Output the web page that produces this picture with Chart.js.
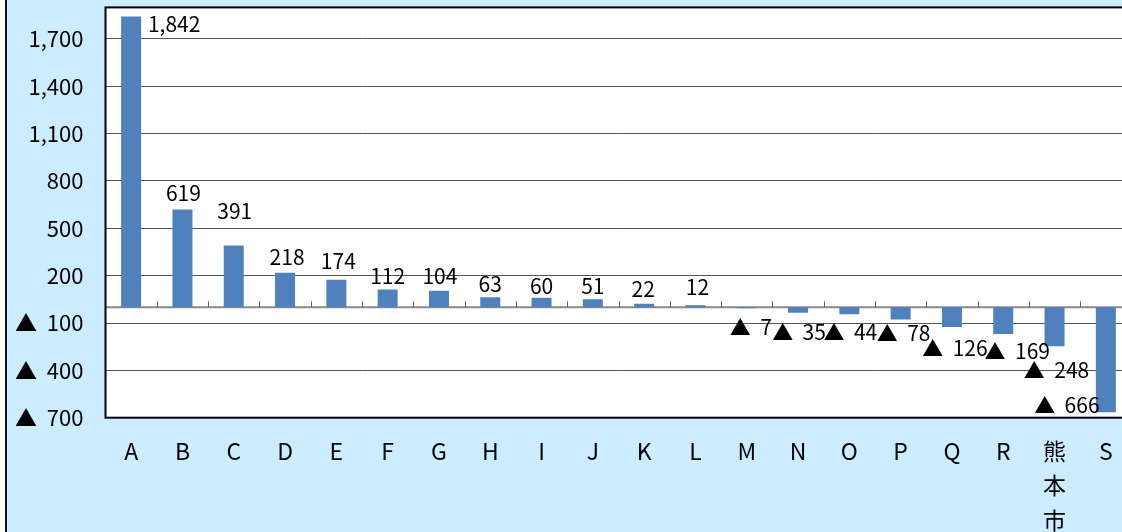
<!DOCTYPE html>
<html lang="ja">
<head>
<meta charset="utf-8">
<title>増減数</title>
<script src="https://cdn.jsdelivr.net/npm/chart.js@4/dist/chart.umd.min.js"></script>
<style>
  html, body { margin: 0; padding: 0; background: #ffffff; overflow: hidden; width: 1122px; height: 532px; }
  #frame {
    position: absolute; left: 5px; top: -20px; width: 1200px; height: 580px;
    box-sizing: border-box; border: 2px solid #111; border-radius: 12px;
    background: #ccecff;
  }
  #wrap { position: absolute; left: 0; top: 0; width: 1160px; height: 532px; }
</style>
</head>
<body>
<div id="frame"></div>
<div id="wrap"><canvas id="chart" width="1160" height="532"></canvas></div>
<script>
// Categories (熊本市 is written top to bottom)
const categories = ['A','B','C','D','E','F','G','H','I','J','K','L','M','N','O','P','Q','R',['熊','本','市'],'S'];
// Change in number
const values = [1842, 619, 391, 218, 174, 112, 104, 63, 60, 51, 22, 12, -7, -35, -44, -78, -126, -169, -248, -666];
// Value axis ticks
const yTickValues = [-700, -400, -100, 200, 500, 800, 1100, 1400, 1700];
const yMin = -700;
const yMax = 1900;

// Label placement tweaks [dx, dy] in px, per bar
const labelNudge = [
  [43, 22], [1, -2], [1, -20], [2, -1], [2, -4], [0, 1], [1, 0], [0, 2], [0, 3], [0, 2], [-1, 0], [2, -3],
  [4, 0], [1, 0], [1, -1], [3, -6], [3, 2], [14, -2], [2, 5], [-39, -26]
];

const FONT = '"Noto Sans CJK JP", "Noto Sans", sans-serif';

function fmt(v) {
  const s = Math.abs(v).toLocaleString('en-US');
  return v < 0 ? '▲  ' + s : s;
}

// White plot area, frame, zero line with category ticks, value labels
const plotArea = {
  id: 'plotArea',
  beforeDraw(chart) {
    const { ctx, chartArea: a } = chart;
    ctx.save();
    ctx.fillStyle = '#ffffff';
    ctx.fillRect(a.left, a.top, a.right - a.left, a.bottom - a.top);
    ctx.restore();
  },
  beforeDatasetsDraw(chart) {
    const { ctx, chartArea: a, scales: { x, y } } = chart;
    const y0 = y.getPixelForValue(0);
    ctx.save();
    ctx.strokeStyle = '#8a8a8a';
    ctx.lineWidth = 2;
    ctx.beginPath();
    ctx.moveTo(a.left, y0);
    ctx.lineTo(a.right, y0);
    ctx.stroke();
    ctx.lineWidth = 1;
    ctx.strokeStyle = '#666';
    for (let i = 1; i < categories.length; i++) {
      const xb = Math.round((x.getPixelForValue(i - 1) + x.getPixelForValue(i)) / 2) + 0.5;
      ctx.beginPath();
      ctx.moveTo(xb, y0);
      ctx.lineTo(xb, y0 - 6);
      ctx.stroke();
    }
    ctx.restore();
  },
  afterDatasetsDraw(chart) {
    const { ctx, chartArea: a } = chart;
    ctx.save();
    ctx.strokeStyle = '#000';
    ctx.lineWidth = 2;
    ctx.strokeRect(a.left, a.top, a.right - a.left, a.bottom - a.top);
    const meta = chart.getDatasetMeta(0);
    ctx.font = '21px ' + FONT;
    ctx.fillStyle = '#000';
    ctx.textAlign = 'center';
    ctx.textBaseline = 'middle';
    meta.data.forEach((bar, i) => {
      const v = values[i];
      const [dx, dy] = labelNudge[i];
      const ty = v >= 0 ? bar.y - 15 + dy : bar.y + 19 + dy;
      ctx.fillText(fmt(v), bar.x + dx, ty);
    });
    ctx.restore();
  }
};

new Chart(document.getElementById('chart'), {
  type: 'bar',
  data: {
    labels: categories,
    datasets: [{
      data: values,
      backgroundColor: '#4f81bd',
      borderWidth: 0,
      barPercentage: 0.39,
      categoryPercentage: 1.0
    }]
  },
  options: {
    responsive: false,
    animation: false,
    layout: { padding: { left: 0, top: 7.4, right: 28.5, bottom: 0 } },
    plugins: { legend: { display: false }, tooltip: { enabled: false } },
    scales: {
      x: {
        grid: { display: false, drawTicks: false },
        border: { display: false },
        ticks: {
          color: '#000',
          font: { family: FONT, size: 23, lineHeight: 1.48 },
          padding: 17,
          maxRotation: 0,
          autoSkip: false
        },
        afterFit(s) { s.height = 114.3; }
      },
      y: {
        min: yMin,
        max: yMax,
        grid: { color: '#555', lineWidth: 1, drawTicks: false },
        border: { display: false },
        ticks: {
          color: '#000',
          font: { family: FONT, size: 22 },
          padding: 22,
          callback: (v) => fmt(v)
        },
        afterBuildTicks(s) { s.ticks = yTickValues.map(v => ({ value: v })); },
        afterFit(s) { s.width = 105.5; s.paddingTop = 0; s.paddingBottom = 0; }
      }
    }
  },
  plugins: [plotArea]
});
</script>
</body>
</html>
